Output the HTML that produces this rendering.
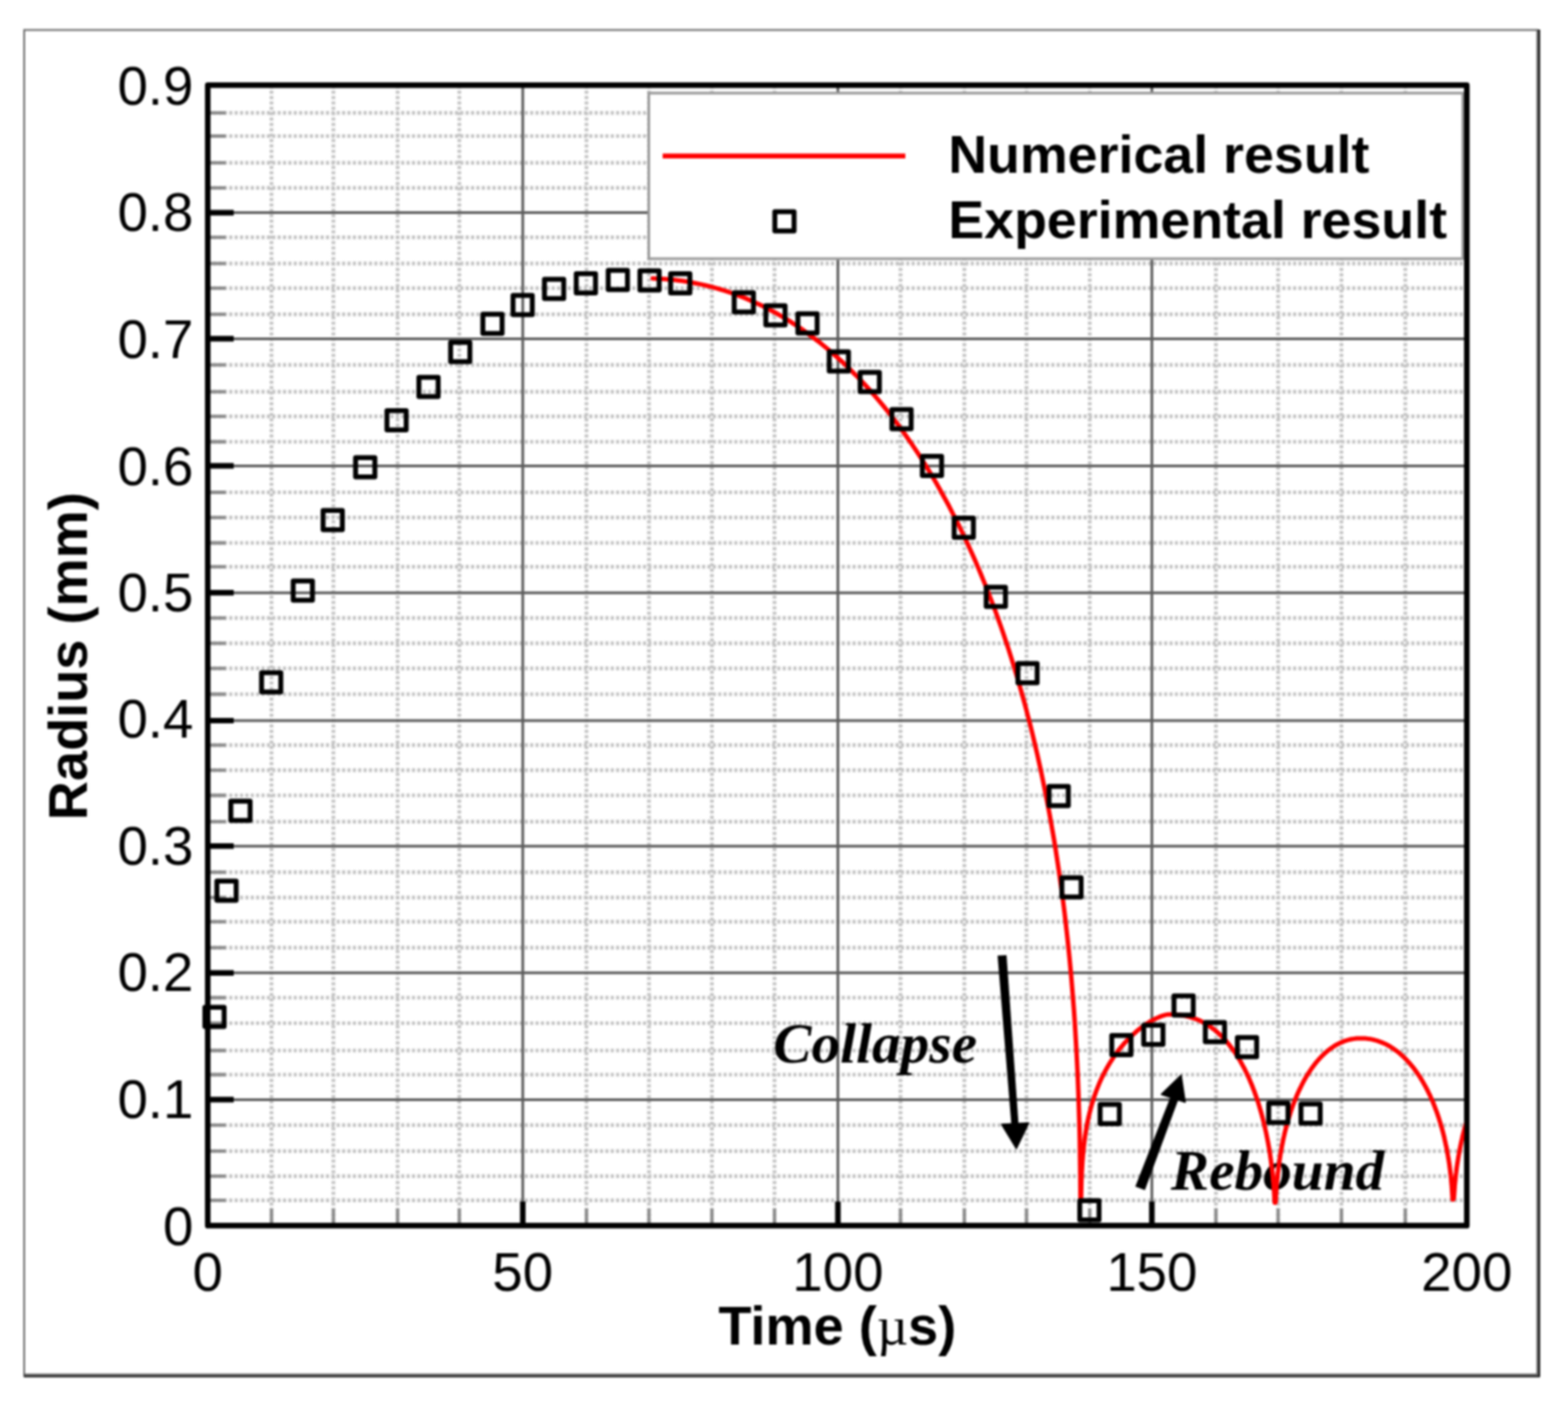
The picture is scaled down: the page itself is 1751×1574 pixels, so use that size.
<!DOCTYPE html>
<html><head><meta charset="utf-8"><title>Bubble radius vs time</title>
<style>html,body{margin:0;padding:0;background:#fff;overflow:hidden}svg{display:block}</style></head><body>
<svg width="1751" height="1574" viewBox="0 0 1751 1574">
<rect x="0" y="0" width="1751" height="1574" fill="#fff"/>
<defs><filter id="soft" filterUnits="userSpaceOnUse" x="0" y="0" width="1751" height="1574" color-interpolation-filters="sRGB"><feGaussianBlur stdDeviation="0.8"/></filter></defs>
<g filter="url(#soft)">
<path d="M27 1537 V33.5 H1718" fill="none" stroke="#6a6a6a" stroke-width="2"/>
<path d="M26.5 1537.5 H1718.8 V33" fill="none" stroke="#000" stroke-width="2"/>
<path d="M26.5 1535.5 H1716.8 V33" fill="none" stroke="#5a5a5a" stroke-width="2"/>
<path d="M232.0 1340.8H1638.0M232.0 1313.8H1638.0M232.0 1285.9H1638.0M232.0 1256.8H1638.0M232.0 1200.5H1638.0M232.0 1173.5H1638.0M232.0 1143.0H1638.0M232.0 1114.5H1638.0M232.0 1058.6H1638.0M232.0 1029.7H1638.0M232.0 1002.7H1638.0M232.0 974.3H1638.0M232.0 917.8H1638.0M232.0 888.5H1638.0M232.0 860.4H1638.0M232.0 832.4H1638.0M232.0 775.5H1638.0M232.0 746.6H1638.0M232.0 718.6H1638.0M232.0 690.3H1638.0M232.0 633.2H1638.0M232.0 606.5H1638.0M232.0 578.1H1638.0M232.0 550.0H1638.0M232.0 493.5H1638.0M232.0 465.1H1638.0M232.0 437.6H1638.0M232.0 407.6H1638.0M232.0 351.2H1638.0M232.0 321.8H1638.0M232.0 294.3H1638.0M232.0 265.2H1638.0M232.0 209.9H1638.0M232.0 181.9H1638.0M232.0 152.0H1638.0M232.0 126.2H1638.0M303.2 95.2V1369.2M372.3 95.2V1369.2M444.0 95.2V1369.2M512.9 95.2V1369.2M654.9 95.2V1369.2M724.7 95.2V1369.2M795.0 95.2V1369.2M864.9 95.2V1369.2M1005.6 95.2V1369.2M1076.9 95.2V1369.2M1146.3 95.2V1369.2M1216.9 95.2V1369.2M1357.8 95.2V1369.2M1427.3 95.2V1369.2M1498.0 95.2V1369.2M1569.3 95.2V1369.2" fill="none" stroke="#c4c4c4" stroke-width="4.2" stroke-dasharray="3.5 2.5"/>
<path d="M232.0 1228.4H1638.0M232.0 1086.8H1638.0M232.0 945.2H1638.0M232.0 805.0H1638.0M232.0 662.2H1638.0M232.0 520.4H1638.0M232.0 378.4H1638.0M232.0 237.6H1638.0M583.8 95.2V1369.2M935.7 95.2V1369.2M1286.3 95.2V1369.2" fill="none" stroke="#5c5c5c" stroke-width="3"/>
<path d="M232.0 1340.8H252.0M232.0 1313.8H252.0M232.0 1285.9H252.0M232.0 1256.8H252.0M232.0 1200.5H252.0M232.0 1173.5H252.0M232.0 1143.0H252.0M232.0 1114.5H252.0M232.0 1058.6H252.0M232.0 1029.7H252.0M232.0 1002.7H252.0M232.0 974.3H252.0M232.0 917.8H252.0M232.0 888.5H252.0M232.0 860.4H252.0M232.0 832.4H252.0M232.0 775.5H252.0M232.0 746.6H252.0M232.0 718.6H252.0M232.0 690.3H252.0M232.0 633.2H252.0M232.0 606.5H252.0M232.0 578.1H252.0M232.0 550.0H252.0M232.0 493.5H252.0M232.0 465.1H252.0M232.0 437.6H252.0M232.0 407.6H252.0M232.0 351.2H252.0M232.0 321.8H252.0M232.0 294.3H252.0M232.0 265.2H252.0M232.0 209.9H252.0M232.0 181.9H252.0M232.0 152.0H252.0M232.0 126.2H252.0M303.2 1369.2V1350.2M372.3 1369.2V1350.2M444.0 1369.2V1350.2M512.9 1369.2V1350.2M654.9 1369.2V1350.2M724.7 1369.2V1350.2M795.0 1369.2V1350.2M864.9 1369.2V1350.2M1005.6 1369.2V1350.2M1076.9 1369.2V1350.2M1146.3 1369.2V1350.2M1216.9 1369.2V1350.2M1357.8 1369.2V1350.2M1427.3 1369.2V1350.2M1498.0 1369.2V1350.2M1569.3 1369.2V1350.2" fill="none" stroke="#8c8c8c" stroke-width="3.8"/>
<path d="M232.0 1228.4H261.0M232.0 1086.8H261.0M232.0 945.2H261.0M232.0 805.0H261.0M232.0 662.2H261.0M232.0 520.4H261.0M232.0 378.4H261.0M232.0 237.6H261.0M583.8 1369.2V1342.2M935.7 1369.2V1342.2M1286.3 1369.2V1342.2" fill="none" stroke="#000" stroke-width="6.2"/>
<rect x="724.5" y="104" width="909" height="185" fill="#fff" stroke="#9a9a9a" stroke-width="3"/>
<rect x="232.0" y="95.2" width="1406.0" height="1274.0" fill="none" stroke="#000" stroke-width="6.2" stroke-linejoin="round"/>
<g font-family="Liberation Sans, Arial, sans-serif" font-size="61" fill="#000">
<text x="216" y="1391.2" text-anchor="end">0</text>
<text x="216" y="1249.3" text-anchor="end">0.1</text>
<text x="216" y="1107.4" text-anchor="end">0.2</text>
<text x="216" y="966.1" text-anchor="end">0.3</text>
<text x="216" y="824.2" text-anchor="end">0.4</text>
<text x="216" y="682.7" text-anchor="end">0.5</text>
<text x="216" y="541.7" text-anchor="end">0.6</text>
<text x="216" y="400.0" text-anchor="end">0.7</text>
<text x="216" y="257.8" text-anchor="end">0.8</text>
<text x="216" y="117.1" text-anchor="end">0.9</text>
<text x="232.0" y="1442" text-anchor="middle">0</text>
<text x="583.8" y="1442" text-anchor="middle">50</text>
<text x="935.7" y="1442" text-anchor="middle">100</text>
<text x="1286.3" y="1442" text-anchor="middle">150</text>
<text x="1638.0" y="1442" text-anchor="middle">200</text>
</g>
<text x="935" y="1501.5" font-family="Liberation Sans, Arial, sans-serif" font-weight="bold" font-size="60.5" text-anchor="middle">Time (<tspan font-family="Liberation Serif, serif" font-weight="normal">µ</tspan>s)</text>
<text transform="translate(97 733) rotate(-90)" x="0" y="0" font-family="Liberation Sans, Arial, sans-serif" font-weight="bold" font-size="60.5" text-anchor="middle">Radius (mm)</text>
<path d="M740 174.3H1011" stroke="#f00" stroke-width="5.5" fill="none"/>
<rect x="865.25" y="236.45" width="21.5" height="21.5" fill="none" stroke="#000" stroke-width="5.5" stroke-linejoin="round"/>
<text x="1059" y="192.6" font-family="Liberation Sans, Arial, sans-serif" font-weight="bold" font-size="60">Numerical result</text>
<text x="1059" y="265.7" font-family="Liberation Sans, Arial, sans-serif" font-weight="bold" font-size="60">Experimental result</text>
<text x="863.5" y="1187" font-family="Liberation Serif, Times New Roman, serif" font-weight="bold" font-style="italic" font-size="64">Collapse</text>
<text x="1307.5" y="1328.7" font-family="Liberation Serif, Times New Roman, serif" font-weight="bold" font-style="italic" font-size="64">Rebound</text>
<clipPath id="pc"><rect x="234.8" y="98" width="1400.4" height="1268.4"/></clipPath>
<path clip-path="url(#pc)" d="M728.8 311.0 733.5 311.2 738.2 311.5 742.9 311.8 747.6 312.2 752.2 312.6 756.9 313.2 761.6 313.8 766.3 314.5 771.0 315.3 775.6 316.2 780.3 317.1 785.0 318.1 789.6 319.2 794.3 320.4 798.9 321.7 803.5 323.0 808.2 324.4 812.8 325.9 817.4 327.5 822.0 329.1 826.6 330.9 831.2 332.7 835.8 334.6 840.3 336.6 844.9 338.7 849.4 340.8 854.0 343.1 858.5 345.4 863.0 347.8 867.5 350.3 872.0 352.9 876.4 355.5 880.9 358.2 885.3 361.1 889.8 364.0 894.2 366.9 898.6 370.0 902.9 373.1 907.3 376.4 911.6 379.7 916.0 383.1 920.3 386.6 924.6 390.1 928.8 393.8 933.1 397.5 937.3 401.3 941.5 405.2 945.7 409.2 949.9 413.2 954.0 417.4 958.2 421.6 962.3 425.9 966.3 430.3 970.4 434.7 974.4 439.3 978.4 443.9 982.4 448.6 986.4 453.4 990.3 458.3 994.2 463.2 998.1 468.2 1002.0 473.3 1005.8 478.5 1009.6 483.8 1013.4 489.2 1017.2 494.6 1020.9 500.1 1024.6 505.7 1028.3 511.3 1031.9 517.1 1035.5 522.9 1039.1 528.8 1042.7 534.8 1046.2 540.8 1049.7 547.0 1053.1 553.2 1056.6 559.5 1060.0 565.8 1063.3 572.3 1066.7 578.8 1070.0 585.4 1073.2 592.0 1076.5 598.8 1079.7 605.6 1082.8 612.5 1086.0 619.5 1089.1 626.5 1092.1 633.6 1095.1 640.8 1098.1 648.1 1101.1 655.4 1104.0 662.9 1106.9 670.3 1109.8 677.9 1112.6 685.5 1115.3 693.2 1118.1 701.0 1120.8 708.9 1123.4 716.8 1126.1 724.8 1128.7 732.9 1131.2 741.0 1133.7 749.2 1136.2 757.5 1138.6 765.9 1141.0 774.3 1143.4 782.8 1145.7 791.4 1147.9 800.0 1150.2 808.7 1152.4 817.5 1154.5 826.4 1156.6 835.3 1158.7 844.3 1160.7 853.4 1162.7 862.5 1164.6 871.7 1166.5 881.0 1168.4 890.4 1170.2 899.8 1172.0 909.3 1173.7 918.9 1175.4 928.5 1177.1 938.2 1178.7 948.0 1180.2 957.9 1181.7 967.9 1183.2 977.9 1184.6 988.0 1186.0 998.2 1187.4 1008.5 1188.7 1018.8 1189.9 1029.3 1191.1 1039.8 1192.3 1050.4 1193.4 1061.1 1194.5 1071.9 1195.5 1082.7 1196.5 1093.7 1197.4 1104.8 1198.3 1116.0 1199.2 1127.2 1200.0 1138.6 1200.7 1150.1 1201.4 1161.8 1202.1 1173.6 1202.7 1185.5 1203.3 1197.5 1203.8 1209.8 1204.3 1222.2 1204.7 1234.8 1205.1 1247.6 1205.5 1260.6 1205.8 1274.0 1206.0 1287.7 1206.2 1301.8 1206.4 1316.5 1206.5 1331.9 1206.6 1338.5 1207.2 1338.5 1207.3 1336.5 1207.4 1331.5 1207.5 1326.9 1207.6 1322.5 1207.7 1318.4 1207.9 1314.5 1208.0 1310.7 1208.2 1307.0 1208.4 1303.5 1208.6 1300.1 1208.8 1296.8 1209.1 1293.6 1209.3 1290.5 1209.6 1287.4 1209.9 1284.4 1210.2 1281.5 1210.5 1278.6 1210.9 1275.8 1211.2 1273.1 1211.6 1270.4 1212.0 1267.7 1212.4 1265.1 1212.8 1262.6 1213.2 1260.0 1213.7 1257.6 1214.1 1255.1 1214.6 1252.7 1215.1 1250.3 1215.6 1248.0 1216.2 1245.7 1216.7 1243.4 1217.3 1241.2 1217.8 1239.0 1218.4 1236.8 1219.0 1234.6 1219.6 1232.5 1220.3 1230.4 1220.9 1228.4 1221.6 1226.3 1222.2 1224.3 1222.9 1222.3 1223.6 1220.3 1224.3 1218.4 1225.1 1216.5 1225.8 1214.6 1226.6 1212.7 1227.3 1210.9 1228.1 1209.1 1228.9 1207.3 1229.7 1205.5 1230.6 1203.7 1231.4 1202.0 1232.2 1200.3 1233.1 1198.6 1234.0 1196.9 1234.9 1195.2 1235.8 1193.6 1236.7 1192.0 1237.6 1190.4 1238.5 1188.8 1239.5 1187.3 1240.4 1185.8 1241.4 1184.3 1242.4 1182.8 1243.3 1181.3 1244.3 1179.8 1245.3 1178.4 1246.4 1177.0 1247.4 1175.6 1248.4 1174.2 1249.5 1172.9 1250.5 1171.5 1251.6 1170.2 1252.7 1168.9 1253.8 1167.6 1254.8 1166.4 1255.9 1165.1 1257.1 1163.9 1258.2 1162.7 1259.3 1161.5 1260.4 1160.4 1261.6 1159.2 1262.7 1158.1 1263.9 1157.0 1265.0 1155.9 1266.2 1154.8 1267.4 1153.8 1268.6 1152.7 1269.8 1151.7 1270.9 1150.7 1272.1 1149.8 1273.4 1148.8 1274.6 1147.9 1275.8 1147.0 1277.0 1146.1 1278.2 1145.2 1279.5 1144.4 1280.7 1143.6 1281.9 1142.8 1283.2 1142.0 1284.4 1141.2 1285.7 1140.5 1286.9 1139.8 1288.2 1139.1 1289.4 1138.5 1290.7 1137.8 1292.0 1137.2 1293.2 1136.7 1294.5 1136.1 1295.8 1135.6 1297.0 1135.1 1298.3 1134.7 1299.6 1134.3 1300.9 1133.9 1302.1 1133.6 1303.4 1133.4 1304.7 1133.2 1306.2 1133.2 1307.8 1133.2 1309.4 1133.3 1310.9 1133.3 1312.5 1133.4 1314.0 1133.5 1315.6 1133.7 1317.2 1133.8 1318.7 1134.0 1320.3 1134.3 1321.8 1134.5 1323.4 1134.8 1324.9 1135.1 1326.4 1135.5 1328.0 1135.9 1329.5 1136.3 1331.0 1136.8 1332.5 1137.3 1334.1 1137.8 1335.6 1138.3 1337.1 1139.0 1338.6 1139.6 1340.1 1140.3 1341.6 1141.0 1343.0 1141.8 1344.5 1142.5 1346.0 1143.4 1347.4 1144.2 1348.9 1145.2 1350.3 1146.1 1351.8 1147.1 1353.2 1148.1 1354.6 1149.2 1356.1 1150.3 1357.5 1151.4 1358.9 1152.6 1360.2 1153.9 1361.6 1155.1 1363.0 1156.4 1364.3 1157.8 1365.7 1159.2 1367.0 1160.6 1368.4 1162.0 1369.7 1163.5 1371.0 1165.1 1372.3 1166.7 1373.5 1168.3 1374.8 1169.9 1376.1 1171.6 1377.3 1173.4 1378.6 1175.1 1379.8 1176.9 1381.0 1178.8 1382.2 1180.7 1383.4 1182.6 1384.5 1184.5 1385.7 1186.5 1386.8 1188.6 1387.9 1190.6 1389.1 1192.7 1390.2 1194.9 1391.2 1197.0 1392.3 1199.2 1393.4 1201.5 1394.4 1203.8 1395.4 1206.1 1396.4 1208.4 1397.4 1210.8 1398.4 1213.2 1399.3 1215.6 1400.3 1218.1 1401.2 1220.6 1402.1 1223.1 1403.0 1225.7 1403.9 1228.3 1404.8 1230.9 1405.6 1233.6 1406.4 1236.2 1407.2 1239.0 1408.0 1241.7 1408.8 1244.5 1409.5 1247.3 1410.3 1250.1 1411.0 1252.9 1411.7 1255.8 1412.4 1258.7 1413.0 1261.6 1413.7 1264.5 1414.3 1267.5 1414.9 1270.5 1415.5 1273.5 1416.1 1276.5 1416.6 1279.6 1417.2 1282.7 1417.7 1285.8 1418.2 1288.9 1418.6 1292.0 1419.1 1295.2 1419.5 1298.3 1419.9 1301.5 1420.3 1304.7 1420.7 1308.0 1421.1 1311.2 1421.4 1314.5 1421.7 1317.8 1422.0 1321.1 1422.3 1324.4 1422.5 1327.7 1422.8 1331.0 1423.0 1334.4 1423.2 1337.8 1423.3 1341.2 1423.5 1343.5 1424.1 1343.5 1424.5 1342.8 1424.7 1339.8 1424.8 1336.8 1425.0 1333.8 1425.2 1330.9 1425.4 1327.9 1425.6 1325.0 1425.8 1322.2 1426.1 1319.3 1426.4 1316.5 1426.6 1313.7 1426.9 1310.9 1427.3 1308.1 1427.6 1305.4 1427.9 1302.7 1428.3 1300.0 1428.7 1297.3 1429.1 1294.6 1429.5 1292.0 1429.9 1289.3 1430.4 1286.7 1430.8 1284.2 1431.3 1281.6 1431.8 1279.0 1432.3 1276.5 1432.8 1274.0 1433.3 1271.5 1433.9 1269.1 1434.4 1266.7 1435.0 1264.2 1435.6 1261.8 1436.2 1259.5 1436.8 1257.1 1437.5 1254.8 1438.1 1252.5 1438.8 1250.2 1439.5 1248.0 1440.2 1245.7 1440.9 1243.5 1441.6 1241.3 1442.3 1239.2 1443.0 1237.1 1443.8 1234.9 1444.6 1232.9 1445.4 1230.8 1446.2 1228.8 1447.0 1226.8 1447.8 1224.8 1448.6 1222.8 1449.5 1220.9 1450.3 1219.0 1451.2 1217.1 1452.1 1215.3 1453.0 1213.5 1453.9 1211.7 1454.8 1209.9 1455.7 1208.2 1456.6 1206.5 1457.6 1204.8 1458.6 1203.1 1459.5 1201.5 1460.5 1199.9 1461.5 1198.3 1462.5 1196.8 1463.5 1195.3 1464.5 1193.8 1465.6 1192.4 1466.6 1191.0 1467.6 1189.6 1468.7 1188.2 1469.8 1186.9 1470.8 1185.6 1471.9 1184.4 1473.0 1183.1 1474.1 1181.9 1475.2 1180.8 1476.3 1179.6 1477.5 1178.5 1478.6 1177.4 1479.7 1176.4 1480.9 1175.4 1482.0 1174.4 1483.2 1173.5 1484.3 1172.5 1485.5 1171.7 1486.7 1170.8 1487.9 1170.0 1489.0 1169.2 1490.2 1168.5 1491.4 1167.7 1492.6 1167.0 1493.8 1166.4 1495.0 1165.8 1496.3 1165.2 1497.5 1164.6 1498.7 1164.1 1499.9 1163.6 1501.1 1163.1 1502.4 1162.7 1503.6 1162.3 1504.9 1161.9 1506.1 1161.6 1507.3 1161.3 1508.6 1161.0 1509.8 1160.8 1511.1 1160.6 1512.3 1160.4 1513.6 1160.2 1514.8 1160.1 1516.1 1160.0 1517.3 1159.9 1518.6 1159.9 1519.8 1159.9 1521.2 1159.9 1522.5 1159.9 1523.9 1160.0 1525.2 1160.1 1526.6 1160.3 1527.9 1160.4 1529.3 1160.6 1530.6 1160.8 1531.9 1161.1 1533.3 1161.4 1534.6 1161.7 1536.0 1162.1 1537.3 1162.4 1538.6 1162.9 1539.9 1163.3 1541.3 1163.8 1542.6 1164.3 1543.9 1164.8 1545.2 1165.4 1546.5 1166.0 1547.8 1166.6 1549.1 1167.3 1550.4 1168.0 1551.7 1168.7 1552.9 1169.5 1554.2 1170.3 1555.5 1171.1 1556.7 1172.0 1558.0 1172.9 1559.2 1173.8 1560.5 1174.7 1561.7 1175.7 1562.9 1176.7 1564.2 1177.8 1565.4 1178.8 1566.6 1179.9 1567.8 1181.1 1569.0 1182.2 1570.2 1183.4 1571.3 1184.7 1572.5 1185.9 1573.6 1187.2 1574.8 1188.5 1575.9 1189.9 1577.0 1191.2 1578.2 1192.6 1579.3 1194.1 1580.4 1195.5 1581.4 1197.0 1582.5 1198.5 1583.6 1200.1 1584.6 1201.6 1585.7 1203.2 1586.7 1204.9 1587.7 1206.5 1588.7 1208.2 1589.7 1209.9 1590.7 1211.7 1591.7 1213.4 1592.6 1215.2 1593.6 1217.0 1594.5 1218.9 1595.4 1220.8 1596.4 1222.7 1597.3 1224.6 1598.1 1226.5 1599.0 1228.5 1599.9 1230.5 1600.7 1232.5 1601.5 1234.6 1602.3 1236.7 1603.1 1238.8 1603.9 1240.9 1604.7 1243.0 1605.4 1245.2 1606.2 1247.4 1606.9 1249.6 1607.6 1251.9 1608.3 1254.1 1609.0 1256.4 1609.7 1258.7 1610.3 1261.1 1611.0 1263.4 1611.6 1265.8 1612.2 1268.2 1612.8 1270.6 1613.3 1273.1 1613.9 1275.6 1614.4 1278.1 1615.0 1280.6 1615.5 1283.1 1616.0 1285.7 1616.4 1288.2 1616.9 1290.8 1617.3 1293.5 1617.8 1296.1 1618.2 1298.8 1618.6 1301.5 1618.9 1304.2 1619.3 1306.9 1619.6 1309.7 1620.0 1312.4 1620.3 1315.3 1620.6 1318.1 1620.8 1320.9 1621.1 1323.8 1621.3 1326.7 1621.5 1329.7 1621.7 1332.6 1621.9 1335.6 1622.1 1338.6 1622.2 1340.0 1622.9 1340.0 1623.6 1337.7 1623.8 1334.9 1624.0 1332.0 1624.2 1329.2 1624.4 1326.4 1624.6 1323.6 1624.9 1320.8 1625.2 1318.1 1625.4 1315.4 1625.7 1312.7 1626.1 1310.0 1626.4 1307.3 1626.7 1304.7 1627.1 1302.0 1627.5 1299.4 1627.9 1296.8 1628.3 1294.3 1628.7 1291.7 1629.2 1289.2 1629.6 1286.7 1630.1 1284.2 1630.6 1281.8 1631.1 1279.3 1631.6 1276.9 1632.1 1274.5 1632.7 1272.1 1633.2 1269.7 1633.8 1267.4 1634.4 1265.1 1635.0 1262.8 1635.6 1260.5 1636.3 1258.2 1636.9 1256.0 1637.6 1253.8 1638.3 1251.6 1639.0 1249.4 1639.7 1247.3 1640.4 1245.2" fill="none" stroke="#ff0000" stroke-width="5" stroke-linecap="round" stroke-linejoin="round"/>
<path d="M228.8 1125.2h21.5v21.5h-21.5zM242.2 984.2h21.5v21.5h-21.5zM257.8 895.0h21.5v21.5h-21.5zM292.1 751.5h21.5v21.5h-21.5zM327.4 649.0h21.5v21.5h-21.5zM360.8 570.2h21.5v21.5h-21.5zM397.1 511.2h21.5v21.5h-21.5zM432.1 458.8h21.5v21.5h-21.5zM467.8 421.6h21.5v21.5h-21.5zM503.2 382.4h21.5v21.5h-21.5zM539.2 351.1h21.5v21.5h-21.5zM572.9 330.1h21.5v21.5h-21.5zM608.0 312.1h21.5v21.5h-21.5zM643.5 305.8h21.5v21.5h-21.5zM679.2 302.1h21.5v21.5h-21.5zM714.6 302.4h21.5v21.5h-21.5zM748.9 305.8h21.5v21.5h-21.5zM819.9 326.9h21.5v21.5h-21.5zM855.2 341.6h21.5v21.5h-21.5zM891.0 350.4h21.5v21.5h-21.5zM926.0 392.9h21.5v21.5h-21.5zM960.5 416.1h21.5v21.5h-21.5zM996.0 457.4h21.5v21.5h-21.5zM1030.0 509.8h21.5v21.5h-21.5zM1065.5 578.8h21.5v21.5h-21.5zM1101.3 656.0h21.5v21.5h-21.5zM1136.7 741.2h21.5v21.5h-21.5zM1171.5 878.4h21.5v21.5h-21.5zM1185.8 980.6h21.5v21.5h-21.5zM1205.8 1341.2h21.5v21.5h-21.5zM1228.5 1233.8h21.5v21.5h-21.5zM1241.5 1156.7h21.5v21.5h-21.5zM1277.2 1145.2h21.5v21.5h-21.5zM1311.0 1112.5h21.5v21.5h-21.5zM1346.0 1142.3h21.5v21.5h-21.5zM1381.8 1159.0h21.5v21.5h-21.5zM1416.8 1232.5h21.5v21.5h-21.5zM1452.8 1233.2h21.5v21.5h-21.5z" fill="none" stroke="#000" stroke-width="5.5" stroke-linejoin="round"/>
<path d="M1114 1067.5 L1124 1066.9 L1137.5 1257 L1129.5 1257.5 Z" fill="#000"/>
<path d="M1118.6 1256 L1148.8 1254.5 L1135 1283 Z" fill="#000" stroke="#000" stroke-width="1.5" stroke-linejoin="round"/>
<path d="M1267.8 1325.5 L1278.5 1329.5 L1316 1228 L1307 1225.5 Z" fill="#000"/>
<path d="M1296.9 1222.5 L1319 1201 L1323.5 1231.3 Z" fill="#000" stroke="#000" stroke-width="1.5" stroke-linejoin="round"/>
</g>
</svg></body></html>
